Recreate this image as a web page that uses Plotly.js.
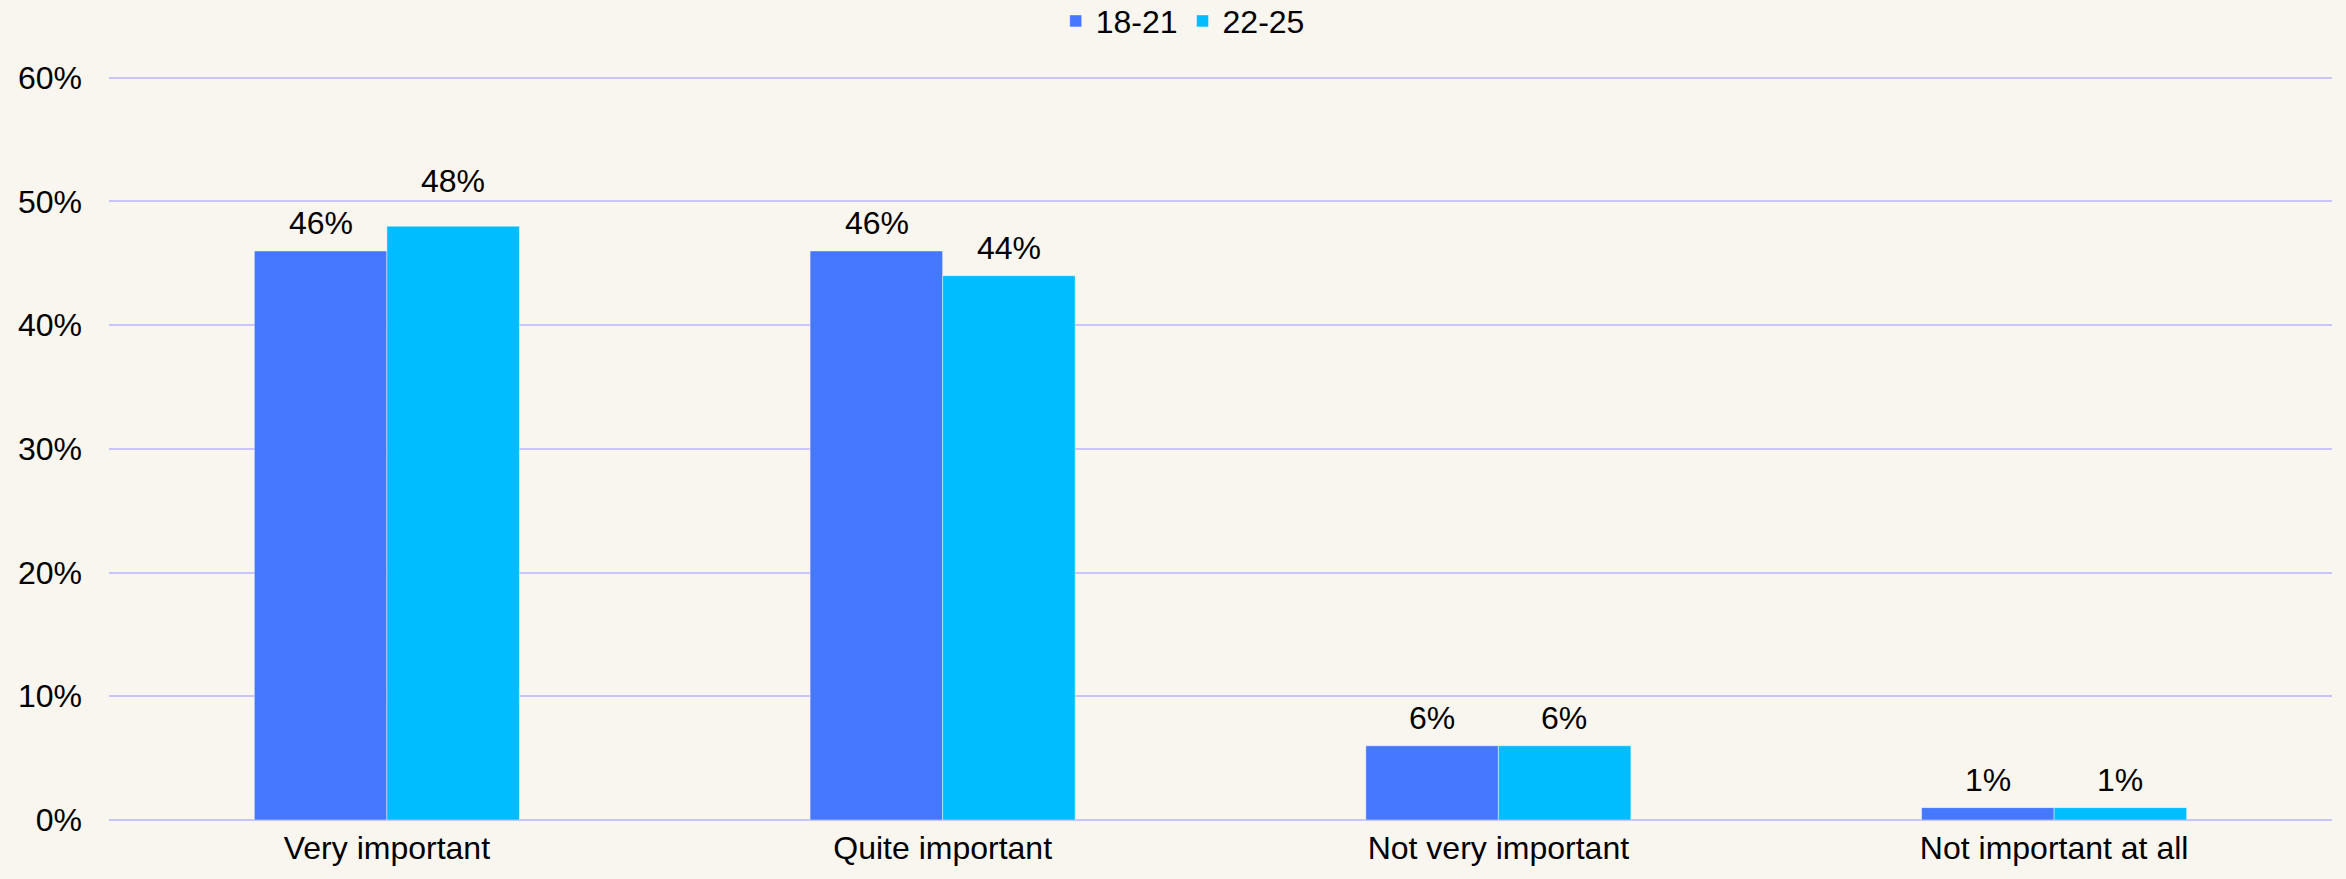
<!DOCTYPE html>
<html>
<head>
<meta charset="utf-8">
<script src="https://cdn.plot.ly/plotly-3.0.1.min.js"></script>
<style>html,body{margin:0;padding:0;background:#F9F5EF;}</style>
</head>
<body>
<div id="chart" style="width:2346px;height:879px;"></div>
<script>
const categories = ["Very important", "Quite important", "Not very important", "Not important at all"];
const series1Name = "18-21";
const series1Values = [46, 46, 6, 1];
const series2Name = "22-25";
const series2Values = [48, 44, 6, 1];
const yTicks = [0, 10, 20, 30, 40, 50, 60];
const yTickLabels = ["0%", "10%", "20%", "30%", "40%", "50%", "60%"];

const font = {family: "Liberation Sans, Arial, sans-serif", size: 32, color: "#000000"};

const traces = [
  {type: "bar", name: series1Name, x: categories, y: series1Values,
   marker: {color: "#4577FF", line: {color: "rgba(255,255,255,0.45)", width: 1}},
   hoverinfo: "skip"},
  {type: "bar", name: series2Name, x: categories, y: series2Values,
   marker: {color: "#00BDFF", line: {color: "rgba(255,255,255,0.45)", width: 1}},
   hoverinfo: "skip"}
];

// plot height 879-74-59 = 746 px for 60.3 units
const ppu = 746 / 60.3;
function labelShift(v) {
  const base = 8;
  const bottom = v * ppu + 18, top = bottom + 24;
  for (const t of yTicks) {
    const tp = t * ppu;
    if (tp > bottom - 2 && tp < top + 2) return (t - v) * ppu;
  }
  return base;
}

const annotations = [];
categories.forEach((c, i) => {
  annotations.push({x: c, y: series1Values[i], xref: "x", yref: "y", text: series1Values[i] + "%",
    showarrow: false, xanchor: "center", yanchor: "bottom", xshift: -66, yshift: labelShift(series1Values[i]), font: font});
  annotations.push({x: c, y: series2Values[i], xref: "x", yref: "y", text: series2Values[i] + "%",
    showarrow: false, xanchor: "center", yanchor: "bottom", xshift: 66, yshift: labelShift(series2Values[i]), font: font});
});

const layout = {
  width: 2346, height: 879,
  paper_bgcolor: "#F9F5EF", plot_bgcolor: "#F9F5EF",
  font: font,
  margin: {l: 109, r: 14, t: 74, b: 59, autoexpand: false},
  barmode: "group", bargap: 0.523, bargroupgap: 0,
  showlegend: true,
  legend: {orientation: "h", x: 0.483, xanchor: "center", yref: "container", y: 0.976, yanchor: "middle",
           font: font, bgcolor: "rgba(0,0,0,0)"},
  xaxis: {type: "category", showgrid: false, zeroline: false, showline: false,
          ticks: "", tickfont: font, ticklabelstandoff: 6},
  yaxis: {range: [0, 60.3], tickvals: yTicks, ticktext: yTickLabels, showgrid: true,
          gridcolor: "#C9C4FA", gridwidth: 2, zeroline: true, zerolinecolor: "#C9C4FA",
          zerolinewidth: 2, showline: false, ticks: "", tickfont: font, ticklabelstandoff: 26},
  annotations: annotations
};

Plotly.newPlot("chart", traces, layout, {staticPlot: true, displayModeBar: false});
</script>
</body>
</html>
